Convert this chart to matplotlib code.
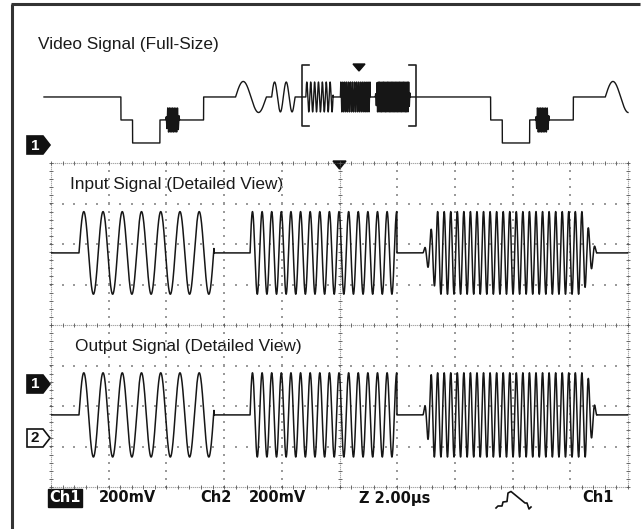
import numpy as np
import matplotlib
matplotlib.use("Agg")
import matplotlib.pyplot as plt
from matplotlib.patches import Polygon, Rectangle

# ---------------- data ----------------
# Detailed view: time in microseconds (trigger at 0), amplitude in divisions
burst_start_us = [-9.03, -3.10, 2.89]
burst_end_us = [-4.35, 1.99, 8.93]
burst_freq_mhz = [1.5, 3.0, 4.4]
input_amp_div = [1.02, 1.02, 1.02]
output_amp_div = [1.04, 1.04, 1.04]
input_rise_us = [0.0, 0.0, 0.5]
input_fall_us = [0.0, 0.0, 0.5]
output_rise_us = [0.0, 0.0, 0.3]
output_fall_us = [0.0, 0.0, 0.35]
input_offset_div = 1.78
output_offset_div = -2.22

# Full-size video line (levels in IRE, times relative to sync start)
line_period_us = 63.5
first_sync_us = -38.8
pedestal_ire = 40
blank_ire = 0
sync_ire = -40
front_porch_us = 2.0
sync_width_us = 4.7
back_porch_end_us = 12.2
color_burst_us = [5.7, 8.1]
color_burst_mhz = 3.58
color_burst_ire = 21
packet_start_us = [17.7, 23.9]
packet_cycles = [1, 2]
packet_freq_mhz = [0.19, 0.5]
packet_amp_ire = [27, 26]
multiburst_amp_ire = 26

# Text
title_full = "Video Signal (Full-Size)"
title_in = "Input Signal (Detailed View)"
title_out = "Output Signal (Detailed View)"
status_texts = ["200mV", "Ch2", "200mV", "Z 2.00\u00b5s", "Ch1"]
status_x = [127, 216, 278, 395, 598]

# ---------------- figure ----------------
W, H = 643, 529
fig = plt.figure(figsize=(W / 100, H / 100), dpi=100)
fig.patch.set_facecolor("white")


def px_axes(x0, y0, x1, y1):
    ax = fig.add_axes([x0 / W, 1 - y1 / H, (x1 - x0) / W, (y1 - y0) / H])
    ax.axis("off")
    ax.patch.set_alpha(0)
    return ax


bg = fig.add_axes([0, 0, 1, 1])
bg.set_xlim(0, W)
bg.set_ylim(H, 0)
bg.axis("off")

INK = "#161616"

# outer frame
bg.plot([12, 12], [4, H + 5], color="#333333", lw=2.2, solid_capstyle="butt")
bg.plot([11, 640], [4, 4], color="#333333", lw=2.2, solid_capstyle="butt")


def burst_sum(t, starts, ends, freqs, amps, rises, falls):
    y = np.zeros_like(t)
    for s, e, f, a, r, fl in zip(starts, ends, freqs, amps, rises, falls):
        m = (t >= s) & (t <= e)
        tt = t[m]
        env = np.ones_like(tt)
        if r > 0:
            env *= np.clip((tt - s) / r, 0, 1)
        if fl > 0:
            env *= np.clip((e - tt) / fl, 0, 1)
        y[m] += a * env * np.sin(2 * np.pi * f * (tt - s))
    return y


# ---------------- detailed view ----------------
det = px_axes(51, 163, 628, 487)
det.set_xlim(-10, 10)
det.set_ylim(-4, 4)

gcol = "#555555"
lcol = "#9a9a9a"
# inner grid dots (faint)
for gx in np.arange(-8, 9, 2):
    if gx == 0:
        continue
    yy = np.arange(-4, 4.01, 0.2)
    det.scatter(np.full_like(yy, gx), yy, s=0.6, color=lcol, marker="s", lw=0, clip_on=False)
for gy in np.arange(-3, 4, 1):
    if gy == 0:
        continue
    xx = np.arange(-10, 10.01, 0.4)
    det.scatter(xx, np.full_like(xx, gy), s=0.6, color=lcol, marker="s", lw=0, clip_on=False)

# centre lines and border: dense dots + minor ticks
dense = dict(color=gcol, lw=0.8, ls=(0, (0.6, 1.2)), clip_on=False)
for gx in [-10, 0, 10]:
    det.plot([gx, gx], [-4, 4], **dense)
    yy = np.arange(-4, 4.01, 0.2)
    det.scatter(np.full_like(yy, gx), yy, s=8, marker="_", color=gcol, lw=0.6, clip_on=False)
for gy in [-4, 0, 4]:
    det.plot([-10, 10], [gy, gy], **dense)
    xx = np.arange(-10, 10.01, 0.4)
    det.scatter(xx, np.full_like(xx, gy), s=8, marker="|", color=gcol, lw=0.6, clip_on=False)

t_det = np.arange(-10, 10, 0.002)
y_in = input_offset_div + burst_sum(t_det, burst_start_us, burst_end_us, burst_freq_mhz,
                                    input_amp_div, input_rise_us, input_fall_us)
y_out = output_offset_div + burst_sum(t_det, burst_start_us, burst_end_us, burst_freq_mhz,
                                      output_amp_div, output_rise_us, output_fall_us)
det.plot(t_det, y_in, color=INK, lw=1.1)
det.plot(t_det, y_out, color=INK, lw=1.1)

# ---------------- full-size view ----------------
top = px_axes(51, 55, 628, 165)
top.set_xlim(-52.8, 46.3)
top.set_ylim(-78.3, 113)
t_full = np.arange(-54.0, 46.3, 0.01)
v = np.full_like(t_full, float(pedestal_ire))
mb_rel_start = np.array(burst_start_us) - first_sync_us
mb_rel_end = np.array(burst_end_us) - first_sync_us
for k in range(-1, 2):
    s0 = first_sync_us + k * line_period_us
    tr = t_full - s0
    v[(tr >= -front_porch_us) & (tr < back_porch_end_us)] = blank_ire
    v[(tr >= 0) & (tr < sync_width_us)] = sync_ire
    v += burst_sum(tr, [color_burst_us[0]], [color_burst_us[1]], [color_burst_mhz],
                   [color_burst_ire], [0.3], [0.3])
    pk_end = [s + c / f for s, c, f in zip(packet_start_us, packet_cycles, packet_freq_mhz)]
    v += burst_sum(tr, packet_start_us, pk_end, packet_freq_mhz, packet_amp_ire,
                   [0, 0], [0, 0])
    v += burst_sum(tr, mb_rel_start, mb_rel_end, burst_freq_mhz,
                   [multiburst_amp_ire] * 3, [0, 0, 0.3], [0, 0, 0.3])
top.plot(t_full, v, color=INK, lw=1.0, clip_on=False)

# bracket and trigger markers
bg.plot([309, 302, 302, 309], [65, 65, 126, 126], color="#222222", lw=1.2)
bg.plot([409, 416, 416, 409], [65, 65, 126, 126], color="#222222", lw=1.2)
bg.add_patch(Polygon([(353, 64), (365, 64), (359, 71)], closed=True, color="#111111"))
bg.add_patch(Polygon([(333, 161), (346, 161), (339.5, 169)], closed=True, color="#111111"))

# channel markers


def ch_marker(yc, label, filled):
    pts = [(27, yc - 9), (43, yc - 9), (50, yc), (43, yc + 9), (27, yc + 9)]
    bg.add_patch(Polygon(pts, closed=True, facecolor="#111111" if filled else "white",
                         edgecolor="#111111", lw=1.2))
    bg.text(35, yc + 0.5, label, ha="center", va="center", fontsize=11, fontweight="bold",
            family="Liberation Sans", color="white" if filled else "#111111")


ch_marker(145, "1", True)
ch_marker(384, "1", True)
ch_marker(438, "2", False)

# labels
lab = dict(family="Liberation Sans", fontsize=12.4, color="#1a1a1a", va="center", ha="left")
bg.text(38, 45, title_full, **lab)
bg.text(70, 185, title_in, **lab)
bg.text(75, 346, title_out, **lab)

# status line
st = dict(family="DejaVu Sans", fontsize=10.5, fontweight="bold", color="#111111",
          va="center", ha="center")
bg.add_patch(Rectangle((48, 489), 34, 18, color="#111111"))
bg.text(65, 498, "Ch1", **{**st, "color": "white"})
for sx, s in zip(status_x, status_texts):
    bg.text(sx, 498, s, **st)
icon = [(496, 508), (498, 506), (502, 506), (503, 502), (507, 501.5), (508, 493),
        (511, 491.5), (525, 503), (527, 503), (529, 509), (531, 507)]
bg.plot([p[0] for p in icon], [p[1] for p in icon], color="#111111", lw=1.2)

fig.savefig("out.png", dpi=100, facecolor="white")
